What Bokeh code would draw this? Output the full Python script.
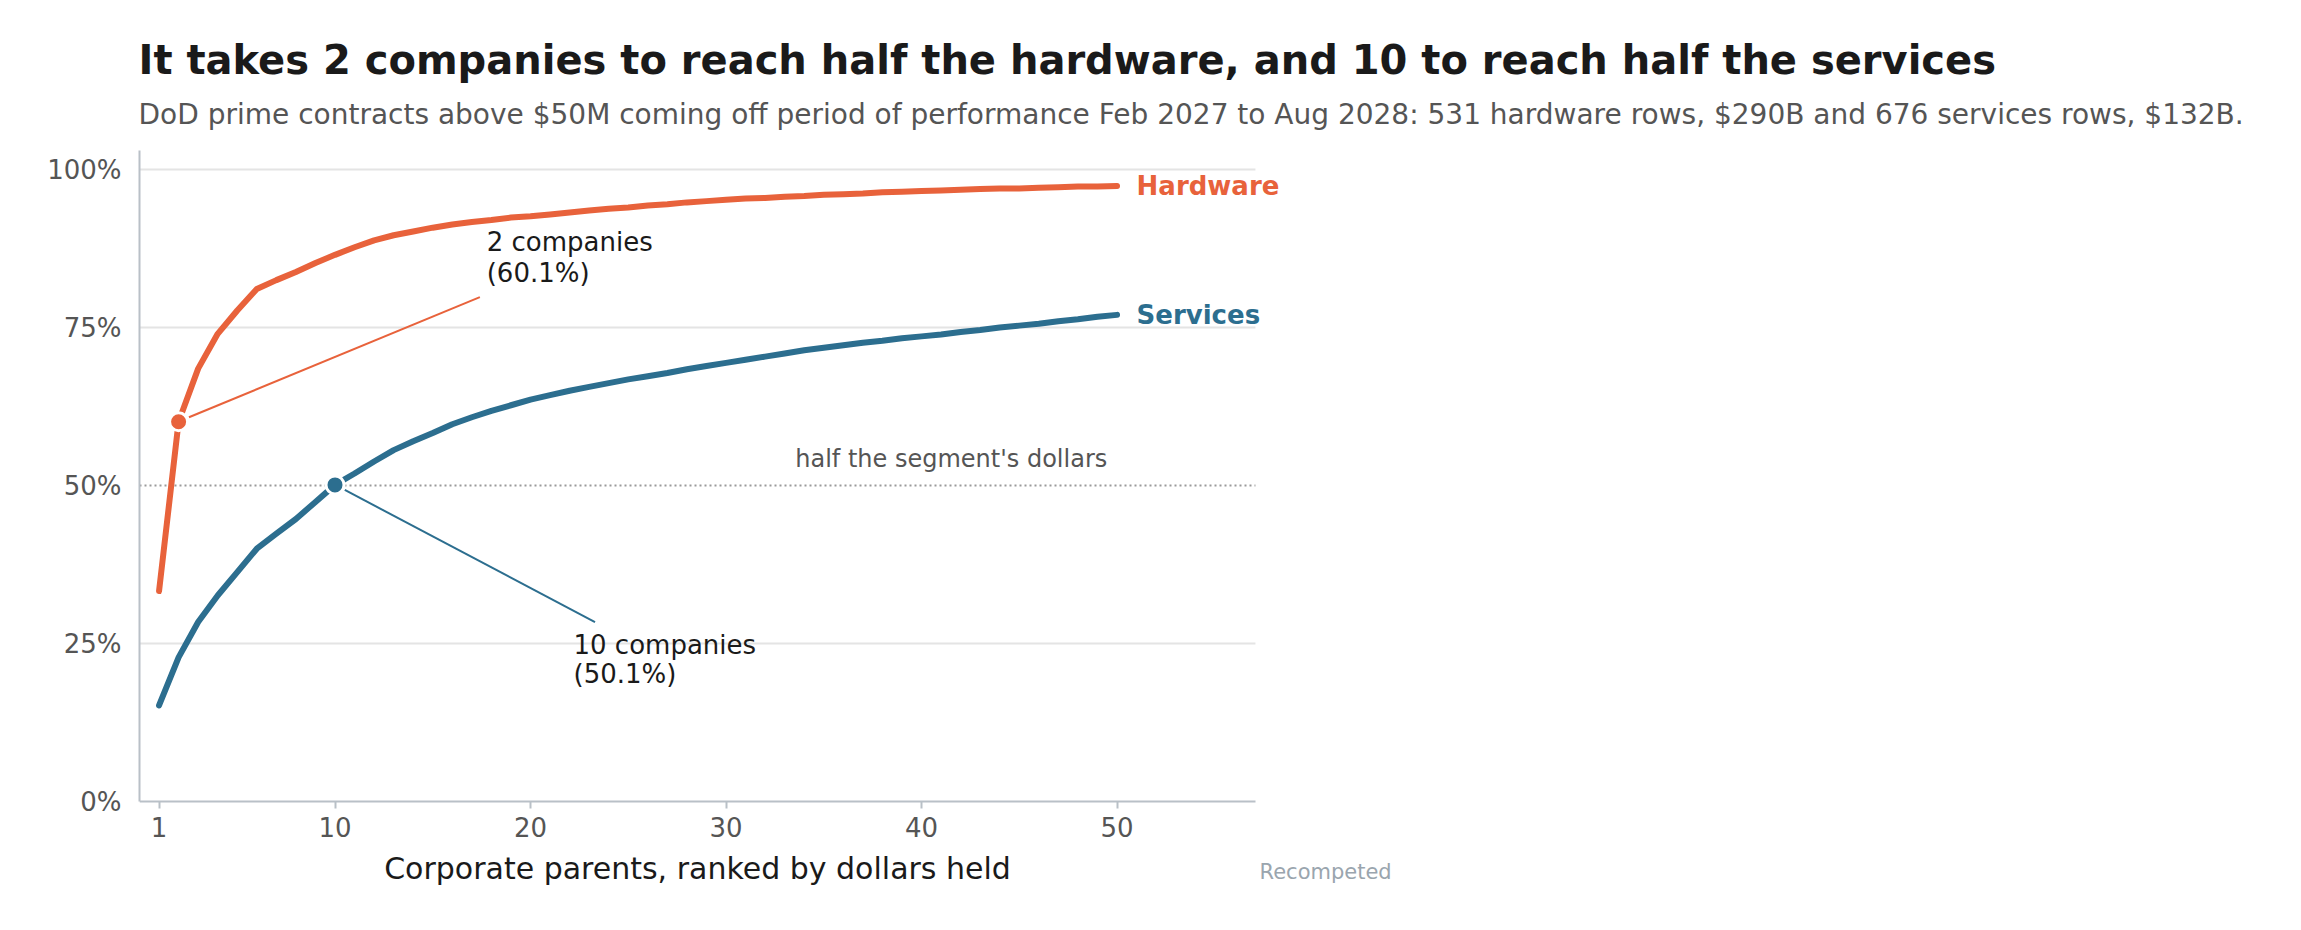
from bokeh.plotting import figure
from bokeh.models import Range1d, FixedTicker, PrintfTickFormatter, Label
from bokeh.embed import file_html
from bokeh.resources import INLINE

# ---- data ----
ranks = list(range(1, 51))
hardware = [33.3, 60.1, 68.5, 74.0, 77.7, 81.1, 82.5, 83.8, 85.2, 86.5,
            87.7, 88.8, 89.6, 90.2, 90.8, 91.3, 91.7, 92.0, 92.4, 92.6,
            92.9, 93.2, 93.5, 93.8, 94.0, 94.3, 94.5, 94.8, 95.0, 95.2,
            95.4, 95.5, 95.7, 95.8, 96.0, 96.1, 96.2, 96.4, 96.5, 96.6,
            96.7, 96.8, 96.9, 97.0, 97.0, 97.1, 97.2, 97.3, 97.3, 97.4]
services = [15.2, 22.8, 28.4, 32.6, 36.3, 40.0, 42.4, 44.7, 47.4, 50.1,
            51.9, 53.8, 55.6, 57.0, 58.3, 59.7, 60.8, 61.8, 62.7, 63.6,
            64.3, 65.0, 65.6, 66.2, 66.8, 67.3, 67.8, 68.4, 68.9, 69.4,
            69.9, 70.4, 70.9, 71.4, 71.8, 72.2, 72.6, 72.9, 73.3, 73.6,
            73.9, 74.3, 74.6, 75.0, 75.3, 75.6, 76.0, 76.3, 76.7, 77.0]
series_names = ["Hardware", "Services"]
half_ranks = [2, 10]
x_ticks = [1, 10, 20, 30, 40, 50]
y_ticks = [0, 25, 50, 75, 100]
half_level = 50

title_text = "It takes 2 companies to reach half the hardware, and 10 to reach half the services"
subtitle_text = ("DoD prime contracts above $50M coming off period of performance Feb 2027 to Aug 2028: "
                 "531 hardware rows, $290B and 676 services rows, $132B.")
source_text = "Recompeted"

ORANGE = "#e8623b"
BLUE = "#2c6e8f"
AXIS = "#b9c0c7"
FONT = "DejaVu Sans"

# axis extents of the visible chart area
X_END = 57.08
Y_END = 103

p = figure(width=2280, height=910, output_backend="svg", toolbar_location=None,
           x_range=Range1d(0, 109.0), y_range=Range1d(-14.715, 123.58),
           min_border_left=139, min_border_right=10, min_border_top=20, min_border_bottom=16)
p.outline_line_color = None
p.background_fill_color = "white"
p.border_fill_color = "white"

# axes
for ax in (p.xaxis[0], p.yaxis[0]):
    ax.axis_line_color = AXIS
    ax.axis_line_width = 2
    ax.major_tick_line_color = AXIS
    ax.major_tick_line_width = 2
    ax.minor_tick_line_color = None
    ax.major_label_text_font = FONT
    ax.major_label_text_font_size = "26px"
    ax.major_label_text_color = "#555555"

p.xaxis.fixed_location = 0
p.xaxis.bounds = (0, X_END)
p.xaxis.ticker = FixedTicker(ticks=x_ticks)
p.xaxis.major_tick_in = 0
p.xaxis.major_tick_out = 7
p.xaxis.major_label_standoff = 8
p.xaxis.axis_label = "Corporate parents, ranked by dollars held"
p.xaxis.axis_label_text_font = FONT
p.xaxis.axis_label_text_font_size = "30px"
p.xaxis.axis_label_text_font_style = "normal"
p.xaxis.axis_label_text_color = "#1a1a1a"
p.xaxis.axis_label_standoff = 11

p.yaxis.bounds = (0, Y_END)
p.yaxis.ticker = FixedTicker(ticks=y_ticks)
p.yaxis.formatter = PrintfTickFormatter(format="%d%%")
p.yaxis.major_tick_in = 0
p.yaxis.major_tick_out = 0
p.yaxis.major_label_standoff = 18

p.xgrid.grid_line_color = None
p.ygrid.grid_line_color = None

# horizontal grid lines limited to the chart area
grid_levels = [t for t in y_ticks if t not in (0, half_level)]
p.segment(x0=[0] * len(grid_levels), y0=grid_levels, x1=[X_END] * len(grid_levels), y1=grid_levels,
          line_color="#e4e4e4", line_width=2)

# half line
p.segment(x0=[0], y0=[half_level], x1=[X_END], y1=[half_level], line_color="#9a9a9a",
          line_width=2, line_dash="2 3")
p.add_layout(Label(x=49.5, y=54.2, text="half the segment's dollars", text_align="right",
                   text_baseline="alphabetic", text_font=FONT, text_font_size="24px",
                   text_color="#555555"))

# curves
p.line(ranks, hardware, line_color=ORANGE, line_width=6, line_cap="round", line_join="round")
p.line(ranks, services, line_color=BLUE, line_width=6, line_cap="round", line_join="round")

# leader lines
hx, sx = half_ranks
hy, sy = hardware[hx - 1], services[sx - 1]
p.segment(x0=[hx + 0.53], y0=[hy + 0.7], x1=[17.41], y1=[79.8], line_color=ORANGE, line_width=2)
p.segment(x0=[sx + 0.5], y0=[sy - 0.8], x1=[23.3], y1=[28.4], line_color=BLUE, line_width=2)

# highlight points
p.scatter([hx], [hy], size=18, fill_color=ORANGE, line_color="white", line_width=3)
p.scatter([sx], [sy], size=18, fill_color=BLUE, line_color="white", line_width=3)

ann = dict(text_font=FONT, text_font_size="26px", text_color="#1a1a1a", text_baseline="alphabetic")
p.add_layout(Label(x=17.76, y=88.5, text=f"{hx} companies", **ann))
p.add_layout(Label(x=17.76, y=83.6, text=f"({hy:.1f}%)", **ann))
p.add_layout(Label(x=22.2, y=24.8, text=f"{sx} companies", **ann))
p.add_layout(Label(x=22.2, y=20.1, text=f"({sy:.1f}%)", **ann))

# end labels
end = dict(text_align="left", text_baseline="middle", text_font=FONT, text_font_size="26px",
           text_font_style="bold")
p.add_layout(Label(x=51.0, y=hardware[-1], text=series_names[0], text_color=ORANGE, **end))
p.add_layout(Label(x=51.0, y=services[-1], text=series_names[1], text_color=BLUE, **end))

# title / subtitle / source
p.add_layout(Label(x=-0.05, y=117.3, text=title_text, text_font=FONT, text_font_size="40px",
                   text_font_style="bold", text_color="#1a1a1a", text_baseline="alphabetic"))
p.add_layout(Label(x=-0.05, y=108.7, text=subtitle_text, text_font=FONT, text_font_size="28px",
                   text_color="#555555", text_baseline="alphabetic"))
p.add_layout(Label(x=57.29, y=-11.2, text=source_text, text_font=FONT, text_font_size="21px",
                   text_color="#9aa5ae", text_baseline="alphabetic"))

open("out.html", "w").write(file_html(p, INLINE))
